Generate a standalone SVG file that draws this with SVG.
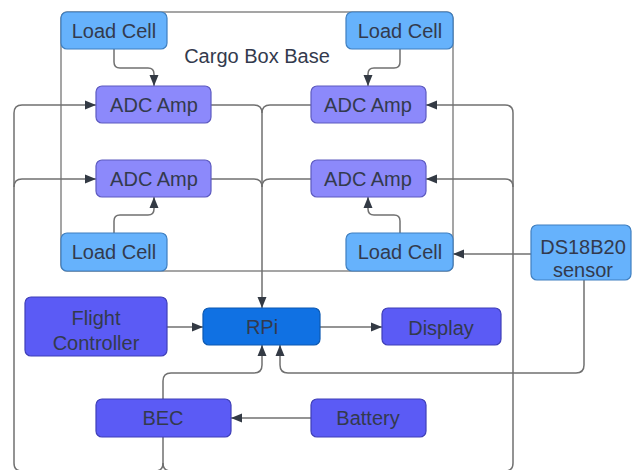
<svg xmlns="http://www.w3.org/2000/svg" width="632" height="470" viewBox="0 0 632 470">
<style>
.t{font-family:"Liberation Sans",Arial,sans-serif;font-size:20px;fill:#333a4d;text-anchor:middle}
.lc{fill:#66b2fc;stroke:#3f7fc0;stroke-width:1.2}
.adc{fill:#8c89fb;stroke:#5d5ac0;stroke-width:1.2}
.dp{fill:#5b5bf5;stroke:#3f3fb8;stroke-width:1.2}
.rpi{fill:#1071e3;stroke:#0c59b2;stroke-width:1.2}
.c{fill:none;stroke:#707070;stroke-width:1.5}
.ca{fill:none;stroke:#707070;stroke-width:1.5;marker-end:url(#ah)}
</style>
<defs>
<marker id="ah" markerUnits="userSpaceOnUse" markerWidth="12" markerHeight="10" refX="11" refY="5" orient="auto">
<path d="M0,0.5 L11,5 L0,9.5 z" fill="#333a44"/>
</marker>
</defs>
<rect id="cargo-box" x="61" y="12" width="392" height="259" rx="6" fill="none" stroke="#888" stroke-width="1.5"/>
<text class="t" x="257" y="63" fill="#333">Cargo Box Base</text>
<g id="connectors">
<path class="ca" d="M114,49 V62 Q114,68 120,68 H148 Q154,68 154,74 V86"/>
<path class="ca" d="M400,49 V62 Q400,68 394,68 H374 Q368,68 368,74 V86"/>
<path class="ca" d="M114,233 V221 Q114,215 120,215 H148 Q154,215 154,209 V197"/>
<path class="ca" d="M400,233 V221 Q400,215 394,215 H374 Q368,215 368,209 V197"/>
<path class="ca" d="M211,105 H254 Q262,105 262,113 V308"/>
<path class="c" d="M311,105 H270 Q262,105 262,113"/>
<path class="c" d="M211,179 H254 Q262,179 262,187"/>
<path class="c" d="M311,179 H270 Q262,179 262,187"/>
<path class="ca" d="M167,327 H203"/>
<path class="ca" d="M320,327 H382"/>
<path class="ca" d="M311,418 H231"/>
<path class="ca" d="M163,399 V381 Q163,373 171,373 H254 Q262,373 262,365 V345"/>
<path class="ca" d="M584,280 V365 Q584,373 576,373 H288 Q280,373 280,365 V345"/>
<path class="ca" d="M531,254 H453"/>
<path class="ca" d="M163,437 V463 Q163,471 155,471 H22 Q14,471 14,463 V113 Q14,105 22,105 H96"/>
<path class="ca" d="M14,187 Q14,179 22,179 H96"/>
<path class="ca" d="M163,463 Q163,471 171,471 H505 Q513,471 513,463 V113 Q513,105 505,105 H426"/>
<path class="ca" d="M513,187 Q513,179 505,179 H426"/>
</g>
<g id="load-cell-1"><rect class="lc" x="61" y="12" width="106" height="37" rx="6"/><text class="t" x="114" y="38">Load Cell</text></g>
<g id="load-cell-2"><rect class="lc" x="346" y="12" width="107" height="37" rx="6"/><text class="t" x="400" y="38">Load Cell</text></g>
<g id="load-cell-3"><rect class="lc" x="61" y="233" width="106" height="38" rx="6"/><text class="t" x="114" y="259">Load Cell</text></g>
<g id="load-cell-4"><rect class="lc" x="346" y="233" width="107" height="38" rx="6"/><text class="t" x="400" y="259">Load Cell</text></g>
<g id="adc-1"><rect class="adc" x="96" y="86" width="115" height="37" rx="6"/><text class="t" x="154" y="112">ADC Amp</text></g>
<g id="adc-2"><rect class="adc" x="311" y="86" width="115" height="37" rx="6"/><text class="t" x="368" y="112">ADC Amp</text></g>
<g id="adc-3"><rect class="adc" x="96" y="160" width="115" height="37" rx="6"/><text class="t" x="154" y="186">ADC Amp</text></g>
<g id="adc-4"><rect class="adc" x="311" y="160" width="115" height="37" rx="6"/><text class="t" x="368" y="186">ADC Amp</text></g>
<g id="ds18b20"><rect class="lc" x="531" y="225" width="100" height="55" rx="6"/><text class="t" x="583" y="254">DS18B20</text><text class="t" x="583" y="277">sensor</text></g>
<g id="flight-controller"><rect class="dp" x="25" y="297" width="142" height="59" rx="6"/><text class="t" x="96" y="325">Flight</text><text class="t" x="96" y="350">Controller</text></g>
<g id="rpi"><rect class="rpi" x="203" y="308" width="117" height="37" rx="6"/><text class="t" x="262" y="334">RPi</text></g>
<g id="display"><rect class="dp" x="382" y="308" width="119" height="37" rx="6"/><text class="t" x="441" y="335">Display</text></g>
<g id="bec"><rect class="dp" x="96" y="399" width="135" height="38" rx="6"/><text class="t" x="163" y="425">BEC</text></g>
<g id="battery"><rect class="dp" x="311" y="399" width="115" height="38" rx="6"/><text class="t" x="368" y="425">Battery</text></g>
</svg>
